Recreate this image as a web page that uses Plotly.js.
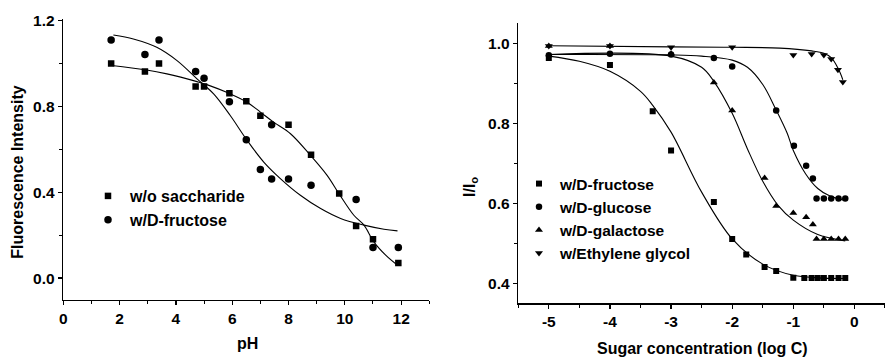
<!DOCTYPE html>
<html>
<head>
<meta charset="utf-8">
<script src="https://cdn.plot.ly/plotly-3.0.1.min.js"></script>
<style>html,body{margin:0;padding:0;background:#fff;}#chart{width:885px;height:357px;}</style>
</head>
<body>
<div id="chart"></div>
<script>
// ---- Left panel: fluorescence vs pH ----
const phNoSugar = [1.7, 2.9, 3.4, 4.7, 5.0, 5.9, 6.5, 7.0, 8.0, 8.8, 9.8, 10.4, 11.0, 11.9];
const fiNoSugar = [1.00, 0.963, 1.00, 0.893, 0.893, 0.862, 0.825, 0.757, 0.715, 0.575, 0.394, 0.243, 0.181, 0.070];
const phFructose = [1.7, 2.9, 3.4, 4.7, 5.0, 5.9, 6.5, 7.0, 7.4, 7.4, 8.0, 8.8, 10.4, 11.0, 11.9];
const fiFructose = [1.11, 1.042, 1.11, 0.963, 0.932, 0.822, 0.645, 0.506, 0.715, 0.462, 0.462, 0.433, 0.366, 0.143, 0.143];
// fitted curves
const phCurveNoSugar = [1.72, 2.91, 3.68, 4.75, 5.10, 5.93, 6.53, 7.0, 7.47, 8.07, 8.78, 9.37, 9.79, 10.32, 10.68, 11.03, 11.45, 11.87];
const fitNoSugar = [0.991, 0.971, 0.952, 0.916, 0.902, 0.859, 0.82, 0.774, 0.727, 0.673, 0.572, 0.479, 0.394, 0.293, 0.247, 0.169, 0.107, 0.06];
const phCurveFructose = [1.78, 2.49, 3.32, 4.04, 4.75, 5.34, 5.93, 6.53, 7.12, 7.71, 8.42, 9.14, 9.85, 10.68, 11.39, 11.87];
const fitFructose = [1.133, 1.115, 1.076, 1.014, 0.929, 0.859, 0.758, 0.642, 0.541, 0.464, 0.386, 0.324, 0.278, 0.247, 0.228, 0.22];

// ---- Right panel: I/Io vs log C ----
const logcFru = [-5, -4, -3.3, -3, -2.3, -2, -1.77, -1.47, -1.28, -1, -0.82, -0.7, -0.6, -0.5, -0.38, -0.26, -0.15];
const ratioFru = [0.963, 0.946, 0.830, 0.732, 0.603, 0.511, 0.472, 0.441, 0.431, 0.414, 0.413, 0.413, 0.413, 0.413, 0.413, 0.413, 0.413];
const logcGlu = [-5, -4, -3, -2.3, -2, -1.28, -0.99, -0.79, -0.68, -0.62, -0.5, -0.38, -0.26, -0.15];
const ratioGlu = [0.970, 0.974, 0.972, 0.963, 0.942, 0.832, 0.744, 0.694, 0.662, 0.612, 0.612, 0.612, 0.612, 0.612];
const logcGal = [-5, -4, -3, -2.3, -2, -1.47, -1.28, -1.0, -0.79, -0.68, -0.62, -0.5, -0.38, -0.26, -0.15];
const ratioGal = [0.993, 0.993, 0.974, 0.902, 0.832, 0.663, 0.593, 0.576, 0.565, 0.547, 0.511, 0.511, 0.511, 0.511, 0.511];
const logcEg = [-5, -4, -3, -2, -1.0, -0.70, -0.50, -0.38, -0.27, -0.19];
const ratioEg = [0.993, 0.993, 0.990, 0.990, 0.971, 0.973, 0.971, 0.961, 0.934, 0.903];
// fitted curves
const fitFruX = [-5, -4.5, -4, -3.5, -3.3, -3, -2.5, -2, -1.5, -1, -0.5, -0.15];
const fitFruY = [0.968, 0.955, 0.93, 0.88, 0.845, 0.778, 0.628, 0.511, 0.448, 0.42, 0.413, 0.412];
const fitGluX = [-5, -3, -2.5, -2, -1.75, -1.5, -1.28, -1.1, -1, -0.8, -0.6, -0.4, -0.15];
const fitGluY = [0.972, 0.971, 0.968, 0.958, 0.94, 0.897, 0.833, 0.775, 0.732, 0.674, 0.637, 0.618, 0.607];
const fitGalX = [-5, -3, -2.5, -2.3, -2, -1.75, -1.5, -1.25, -1, -0.6, -0.15];
const fitGalY = [0.972, 0.968, 0.94, 0.905, 0.825, 0.736, 0.655, 0.595, 0.558, 0.522, 0.506];
const fitEgX = [-5, -3, -2, -1.22, -0.7, -0.5, -0.38, -0.27, -0.19];
const fitEgY = [0.994, 0.991, 0.990, 0.988, 0.981, 0.975, 0.964, 0.938, 0.909];

const xTickVals2 = [-5, -4, -3, -2, -1, 0];
const xTickText2 = ['-5', '-4', '-3', '-2', '-1', '0'];

const FONT = 'Liberation Sans, Arial, sans-serif';
const tickFont = {family: FONT, size: 15.5, color: '#000', weight: 'bold'};
const titleFont = {family: FONT, size: 16, color: '#000', weight: 'bold'};
const legend2Font = {family: FONT, size: 15.5, color: '#000', weight: 'bold'};
const lineStyle = {color: '#000', width: 1.1, shape: 'spline', smoothing: 1};
const mk = (sym, size) => ({symbol: sym, size: size, color: '#000'});

const traces = [
  {x: phCurveNoSugar, y: fitNoSugar, mode: 'lines', line: lineStyle, showlegend: false, xaxis: 'x', yaxis: 'y', hoverinfo: 'skip'},
  {x: phCurveFructose, y: fitFructose, mode: 'lines', line: lineStyle, showlegend: false, xaxis: 'x', yaxis: 'y', hoverinfo: 'skip'},
  {x: phNoSugar, y: fiNoSugar, mode: 'markers', name: 'w/o saccharide', marker: mk('square', 6.5), xaxis: 'x', yaxis: 'y', legend: 'legend', legendgroup: 'a'},
  {x: phFructose, y: fiFructose, mode: 'markers', name: 'w/D-fructose', marker: mk('circle', 7.5), xaxis: 'x', yaxis: 'y', legend: 'legend', legendgroup: 'b'},

  {x: fitFruX, y: fitFruY, mode: 'lines', line: lineStyle, showlegend: false, xaxis: 'x2', yaxis: 'y2', hoverinfo: 'skip'},
  {x: fitGluX, y: fitGluY, mode: 'lines', line: lineStyle, showlegend: false, xaxis: 'x2', yaxis: 'y2', hoverinfo: 'skip'},
  {x: fitGalX, y: fitGalY, mode: 'lines', line: lineStyle, showlegend: false, xaxis: 'x2', yaxis: 'y2', hoverinfo: 'skip'},
  {x: fitEgX, y: fitEgY, mode: 'lines', line: lineStyle, showlegend: false, xaxis: 'x2', yaxis: 'y2', hoverinfo: 'skip'},
  {x: logcFru, y: ratioFru, mode: 'markers', name: 'w/D-fructose', marker: mk('square', 6), xaxis: 'x2', yaxis: 'y2', legend: 'legend2'},
  {x: logcGlu, y: ratioGlu, mode: 'markers', name: 'w/D-glucose', marker: mk('circle', 6.5), xaxis: 'x2', yaxis: 'y2', legend: 'legend2'},
  {x: logcGal, y: ratioGal, mode: 'markers', name: 'w/D-galactose', marker: mk('triangle-up', 7), xaxis: 'x2', yaxis: 'y2', legend: 'legend2'},
  {x: logcEg, y: ratioEg, mode: 'markers', name: 'w/Ethylene glycol', marker: mk('triangle-down', 7), xaxis: 'x2', yaxis: 'y2', legend: 'legend2'}
];

const axisCommon = {
  showline: true, linecolor: '#000', linewidth: 1.5, showgrid: false, zeroline: false,
  ticks: 'outside', ticklen: 4, tickwidth: 1.2, tickcolor: '#000', tickfont: tickFont,
  fixedrange: true
};

const layout = {
  width: 885, height: 357,
  margin: {l: 0, r: 0, t: 0, b: 0},
  paper_bgcolor: '#fff', plot_bgcolor: '#fff',
  font: {family: FONT, color: '#000'},
  xaxis: Object.assign({}, axisCommon, {domain: [0.0715, 0.4851], range: [0, 13], tick0: 0, dtick: 2,
    minor: {ticks: 'outside', dtick: 1, ticklen: 3, tickcolor: '#000', tickwidth: 1}, anchor: 'y'}),
  yaxis: Object.assign({}, axisCommon, {domain: [0.161, 0.948], range: [-0.1, 1.21], tick0: 0, dtick: 0.4, tickformat: '.1f',
    minor: {ticks: 'outside', dtick: 0.2, ticklen: 3, tickcolor: '#000', tickwidth: 1}, anchor: 'x'}),
  xaxis2: Object.assign({}, axisCommon, {domain: [0.5856, 1], range: [-5.5, 0.5], tickmode: 'array', tickvals: xTickVals2, ticktext: xTickText2,
    minor: {ticks: 'outside', dtick: 0.5, ticklen: 3, tickcolor: '#000', tickwidth: 1}, anchor: 'y2'}),
  yaxis2: Object.assign({}, axisCommon, {domain: [0.1504, 0.9347], range: [0.35, 1.05], tick0: 0.4, dtick: 0.2, tickformat: '.1f',
    minor: {ticks: 'outside', dtick: 0.1, ticklen: 3, tickcolor: '#000', tickwidth: 1}, anchor: 'x2'}),
  legend: {x: 86 / 885, y: 1 - 179 / 357, xanchor: 'left', yanchor: 'top', bgcolor: 'rgba(0,0,0,0)', itemwidth: 34,
    font: titleFont, tracegroupgap: 7, traceorder: 'normal'},
  legend2: {x: 518 / 885, y: 1 - 167 / 357, xanchor: 'left', yanchor: 'top', bgcolor: 'rgba(0,0,0,0)', itemwidth: 32,
    font: legend2Font, traceorder: 'normal'},
  annotations: [
    {text: 'Fluorescence Intensity', xref: 'paper', yref: 'paper', x: 16.7 / 885, y: 1 - 172 / 357, textangle: -90,
      xanchor: 'center', yanchor: 'middle', showarrow: false, font: titleFont},
    {text: 'pH', xref: 'paper', yref: 'paper', x: 247 / 885, y: 1 - 343 / 357,
      xanchor: 'center', yanchor: 'middle', showarrow: false, font: titleFont},
    {text: 'I/I<sub>o</sub>', xref: 'paper', yref: 'paper', x: 470 / 885, y: 1 - 187 / 357, textangle: -90,
      xanchor: 'center', yanchor: 'middle', showarrow: false, font: titleFont},
    {text: 'Sugar concentration (log C)', xref: 'paper', yref: 'paper', x: 702 / 885, y: 1 - 348 / 357,
      xanchor: 'center', yanchor: 'middle', showarrow: false, font: titleFont}
  ]
};

Plotly.newPlot('chart', traces, layout, {displayModeBar: false, staticPlot: true});
</script>
</body>
</html>
